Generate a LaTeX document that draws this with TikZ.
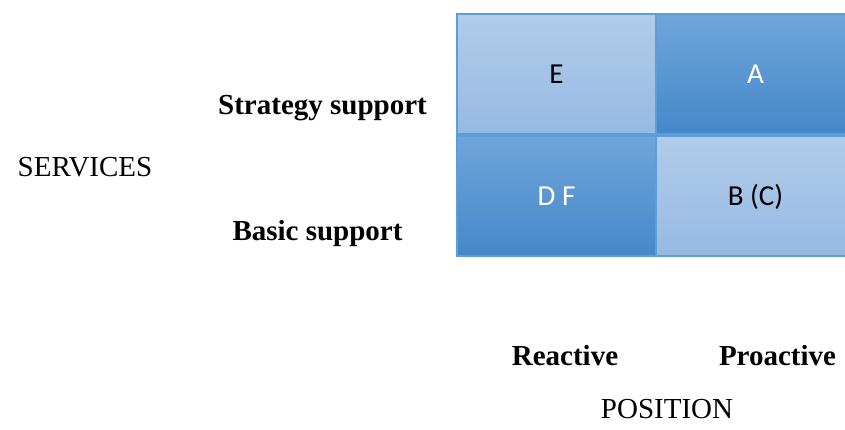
\documentclass[tikz,border=0pt]{standalone}
\usepackage{fontspec}
\setmainfont{Liberation Serif}
\newfontfamily\cellfont{Carlito}
\usetikzlibrary{positioning}
\definecolor{lightTop}{HTML}{B2CCEA}
\definecolor{lightBot}{HTML}{96B9E3}
\definecolor{darkTop}{HTML}{70A5DA}
\definecolor{darkMid}{HTML}{569DDD}
\definecolor{darkBot}{HTML}{4488CA}
\definecolor{cellEdge}{HTML}{5E9ED8}
\begin{document}
\begin{tikzpicture}[x=1pt,y=1pt,
  cell/.style={draw=cellEdge, line width=1.2pt, minimum width=199pt, minimum height=120pt,
    inner sep=0pt, outer sep=0pt, text height=18.7pt, text depth=0pt,
    font=\cellfont\fontsize{29}{34}\selectfont},
  lightcell/.style={cell, top color=lightTop, bottom color=lightBot, text=black},
  darkcell/.style={cell, top color=darkTop, middle color=darkMid, bottom color=darkBot, text=white},
  axislabel/.style={anchor=base, inner sep=0pt, font=\fontsize{29}{34}\selectfont},
  rowlabel/.style={axislabel, font=\fontsize{29}{34}\selectfont\bfseries}]
\useasboundingbox (0,0) rectangle (845,429);
\node[lightcell] (cellE) at (556.5,355) {E};
\node[darkcell, right=0pt of cellE] (cellA) {A};
\node[darkcell, below=2pt of cellE] (cellDF) {D F};
\node[lightcell, right=0pt of cellDF] (cellBC) {B (C)};
\node[rowlabel] (strategy) at (322.5,314) {Strategy support};
\node[rowlabel] (basic) at (317.5,189) {Basic support};
\node[axislabel] (services) at (85,252) {SERVICES};
\node[rowlabel] (reactive) at (565,64) {Reactive};
\node[rowlabel] (proactive) at (777.5,64) {Proactive};
\node[axislabel] (position) at (667,11) {POSITION};
\end{tikzpicture}
\end{document}
